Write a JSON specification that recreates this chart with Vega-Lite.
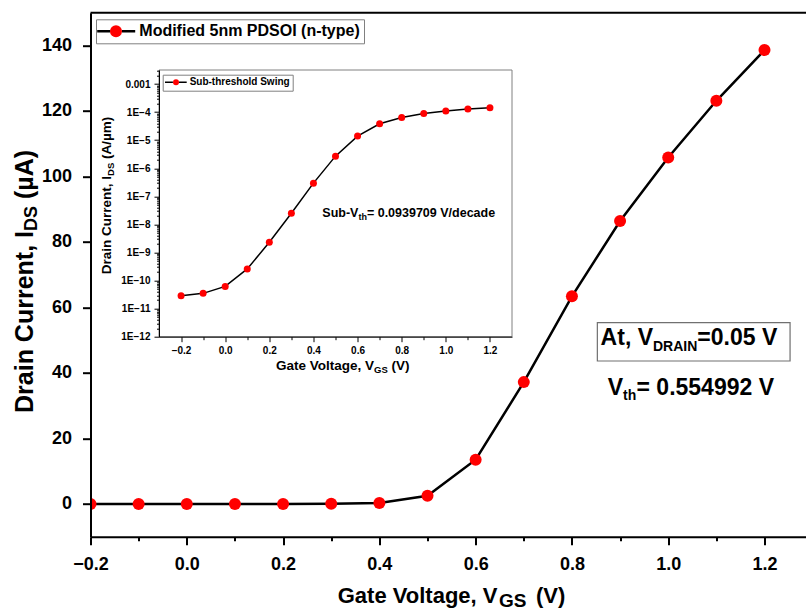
{
  "$schema": "https://vega.github.io/schema/vega-lite/v6.json",
  "width": 715.5,
  "height": 524,
  "autosize": {"type": "none"},
  "padding": {"left": 90.5, "top": 12.7, "right": 0, "bottom": 74.3},
  "background": "white",
  "config": {"view": {"stroke": null}, "font": "Liberation Sans"},
  "datasets": {
    "main": [
      {"vgs": -0.2, "ids": 0.0, "series": "Modified 5nm PDSOI (n-type)"},
      {"vgs": -0.1, "ids": 0.0, "series": "Modified 5nm PDSOI (n-type)"},
      {"vgs": 0.0, "ids": 0.0, "series": "Modified 5nm PDSOI (n-type)"},
      {"vgs": 0.1, "ids": 0.0, "series": "Modified 5nm PDSOI (n-type)"},
      {"vgs": 0.2, "ids": 0.0, "series": "Modified 5nm PDSOI (n-type)"},
      {"vgs": 0.3, "ids": 0.03, "series": "Modified 5nm PDSOI (n-type)"},
      {"vgs": 0.4, "ids": 0.3, "series": "Modified 5nm PDSOI (n-type)"},
      {"vgs": 0.5, "ids": 2.5, "series": "Modified 5nm PDSOI (n-type)"},
      {"vgs": 0.6, "ids": 13.5, "series": "Modified 5nm PDSOI (n-type)"},
      {"vgs": 0.7, "ids": 37.2, "series": "Modified 5nm PDSOI (n-type)"},
      {"vgs": 0.8, "ids": 63.4, "series": "Modified 5nm PDSOI (n-type)"},
      {"vgs": 0.9, "ids": 86.4, "series": "Modified 5nm PDSOI (n-type)"},
      {"vgs": 1.0, "ids": 105.8, "series": "Modified 5nm PDSOI (n-type)"},
      {"vgs": 1.1, "ids": 123.1, "series": "Modified 5nm PDSOI (n-type)"},
      {"vgs": 1.2, "ids": 138.6, "series": "Modified 5nm PDSOI (n-type)"}
    ],
    "inset": [
      {"vgs": -0.2, "ids": 2.9e-11, "series": "Sub-threshold Swing"},
      {"vgs": -0.1, "ids": 3.5e-11, "series": "Sub-threshold Swing"},
      {"vgs": 0.0, "ids": 6.2e-11, "series": "Sub-threshold Swing"},
      {"vgs": 0.1, "ids": 2.6e-10, "series": "Sub-threshold Swing"},
      {"vgs": 0.2, "ids": 2.3e-9, "series": "Sub-threshold Swing"},
      {"vgs": 0.3, "ids": 2.5e-8, "series": "Sub-threshold Swing"},
      {"vgs": 0.4, "ids": 2.95e-7, "series": "Sub-threshold Swing"},
      {"vgs": 0.5, "ids": 2.7e-6, "series": "Sub-threshold Swing"},
      {"vgs": 0.6, "ids": 1.4e-5, "series": "Sub-threshold Swing"},
      {"vgs": 0.7, "ids": 3.85e-5, "series": "Sub-threshold Swing"},
      {"vgs": 0.8, "ids": 6.4e-5, "series": "Sub-threshold Swing"},
      {"vgs": 0.9, "ids": 9.0e-5, "series": "Sub-threshold Swing"},
      {"vgs": 1.0, "ids": 1.1e-4, "series": "Sub-threshold Swing"},
      {"vgs": 1.1, "ids": 1.29e-4, "series": "Sub-threshold Swing"},
      {"vgs": 1.2, "ids": 1.43e-4, "series": "Sub-threshold Swing"}
    ]
  },
  "layer": [
    {
      "data": {"name": "main"},
      "layer": [
        {
          "data": {"values": [{}]},
          "mark": {"type": "rule", "color": "black", "strokeWidth": 2},
          "encoding": {"y": {"datum": 150, "type": "quantitative"}}
        },
        {
          "mark": {"type": "line", "strokeWidth": 2.5, "clip": true},
          "encoding": {
            "x": {"field": "vgs", "type": "quantitative",
              "scale": {"domain": [-0.2, 1.2862], "nice": false, "zero": false},
              "axis": {"orient": "bottom", "title": null, "grid": false, "zindex": 1,
                "values": [-0.2, -0.1, 0, 0.1, 0.2, 0.3, 0.4, 0.5, 0.6, 0.7, 0.8, 0.9, 1.0, 1.1, 1.2],
                "format": ".1f",
                "labelExpr": "abs(round(datum.value*10))%2==0 ? datum.label : ''",
                "labelFlush": false, "labelOverlap": false,
                "labelFont": "Liberation Sans", "labelFontSize": 18, "labelFontWeight": "bold", "labelColor": "black", "labelPadding": 11,
                "domainColor": "black", "domainWidth": 2, "tickColor": "black", "tickWidth": 2,
                "tickSize": {"condition": {"test": "abs(round(datum.value*10))%2==0", "value": 8}, "value": 4}}},
            "y": {"field": "ids", "type": "quantitative",
              "scale": {"domain": [-10, 150], "nice": false, "zero": false},
              "axis": {"orient": "left", "title": null, "grid": false, "zindex": 1,
                "values": [0, 10, 20, 30, 40, 50, 60, 70, 80, 90, 100, 110, 120, 130, 140],
                "labelExpr": "datum.value%20==0 ? datum.label : ''",
                "labelFlush": false, "labelOverlap": false,
                "labelFont": "Liberation Sans", "labelFontSize": 18, "labelFontWeight": "bold", "labelColor": "black", "labelPadding": 11,
                "domainColor": "black", "domainWidth": 2, "tickColor": "black", "tickWidth": 2,
                "tickSize": {"condition": {"test": "datum.value%20==0", "value": 8}, "value": 4}}},
            "stroke": {"field": "series", "type": "nominal", "scale": {"range": ["black"]},
              "legend": {"title": null, "orient": "none", "legendX": 5.2, "legendY": -1.9, "padding": 0,
                "symbolType": "M-1,0H-0.3M0.3,0H1", "symbolSize": 1444, "symbolStrokeWidth": 2.5,
                "labelExpr": "''", "labelFontSize": 16}}
          }
        },
        {
          "mark": {"type": "point", "filled": true, "size": 144, "opacity": 1, "shape": "circle", "clip": true},
          "encoding": {
            "x": {"field": "vgs", "type": "quantitative"},
            "y": {"field": "ids", "type": "quantitative"},
            "fill": {"field": "series", "type": "nominal", "scale": {"range": ["#ff0000"]},
              "legend": {"title": null, "orient": "none", "legendX": 5.5, "legendY": 6.6, "padding": 4,
                "strokeColor": "#808080", "symbolType": "circle", "symbolSize": 144, "symbolStrokeWidth": 0,
                "symbolOpacity": 1, "symbolOffset": 8, "labelOffset": 15.3,
                "labelFont": "Liberation Sans", "labelFontSize": 16, "labelFontWeight": "bold", "labelColor": "black", "labelLimit": 500}}
          }
        },
        {
          "data": {"values": [{}]},
          "mark": {"type": "rect", "fill": null, "stroke": "#707070", "strokeWidth": 1.2},
          "encoding": {"x": {"datum": 0.8528}, "x2": {"datum": 1.2531}, "y": {"datum": 55.34}, "y2": {"datum": 43.65}}
        },
        {
          "data": {"values": [{}]},
          "mark": {"type": "text", "text": "At, V", "font": "Liberation Sans", "fontWeight": "bold", "fontSize": 23, "align": "right", "baseline": "alphabetic", "color": "black"},
          "encoding": {"x": {"datum": 0.9684}, "y": {"datum": 48.53}}
        },
        {
          "data": {"values": [{}]},
          "mark": {"type": "text", "text": "DRAIN", "font": "Liberation Sans", "fontWeight": "bold", "fontSize": 14, "align": "left", "baseline": "alphabetic", "dy": 6, "color": "black"},
          "encoding": {"x": {"datum": 0.9684}, "y": {"datum": 48.53}}
        },
        {
          "data": {"values": [{}]},
          "mark": {"type": "text", "text": "=0.05 V", "font": "Liberation Sans", "fontWeight": "bold", "fontSize": 23, "align": "left", "baseline": "alphabetic", "color": "black"},
          "encoding": {"x": {"datum": 1.0605}, "y": {"datum": 48.53}}
        },
        {
          "data": {"values": [{}]},
          "mark": {"type": "text", "text": "V", "font": "Liberation Sans", "fontWeight": "bold", "fontSize": 23, "align": "right", "baseline": "alphabetic", "color": "black"},
          "encoding": {"x": {"datum": 0.9062}, "y": {"datum": 33.27}}
        },
        {
          "data": {"values": [{}]},
          "mark": {"type": "text", "text": "th", "font": "Liberation Sans", "fontWeight": "bold", "fontSize": 14, "align": "left", "baseline": "alphabetic", "dy": 5, "color": "black"},
          "encoding": {"x": {"datum": 0.9062}, "y": {"datum": 33.27}}
        },
        {
          "data": {"values": [{}]},
          "mark": {"type": "text", "text": "= 0.554992 V", "font": "Liberation Sans", "fontWeight": "bold", "fontSize": 23, "align": "left", "baseline": "alphabetic", "color": "black"},
          "encoding": {"x": {"datum": 0.9342}, "y": {"datum": 33.27}}
        },
        {
          "data": {"values": [{}]},
          "mark": {"type": "text", "text": "Gate Voltage, V", "font": "Liberation Sans", "fontWeight": "bold", "fontSize": 22, "align": "right", "baseline": "alphabetic", "color": "black"},
          "encoding": {"x": {"datum": 0.6454}, "y": {"datum": -30.3}}
        },
        {
          "data": {"values": [{}]},
          "mark": {"type": "text", "text": "GS", "font": "Liberation Sans", "fontWeight": "bold", "fontSize": 19, "align": "left", "baseline": "alphabetic", "dy": 4, "color": "black"},
          "encoding": {"x": {"datum": 0.6486}, "y": {"datum": -30.3}}
        },
        {
          "data": {"values": [{}]},
          "mark": {"type": "text", "text": "(V)", "font": "Liberation Sans", "fontWeight": "bold", "fontSize": 22, "align": "left", "baseline": "alphabetic", "color": "black"},
          "encoding": {"x": {"datum": 0.7254}, "y": {"datum": -30.3}}
        },
        {
          "data": {"values": [{}]},
          "mark": {"type": "text", "text": "Drain Current, I", "font": "Liberation Sans", "fontWeight": "bold", "fontSize": 25, "angle": 270, "align": "right", "baseline": "alphabetic", "color": "black"},
          "encoding": {"x": {"datum": -0.3188}, "y": {"datum": 83.34}}
        },
        {
          "data": {"values": [{}]},
          "mark": {"type": "text", "text": "DS", "font": "Liberation Sans", "fontWeight": "bold", "fontSize": 18, "angle": 270, "align": "left", "baseline": "alphabetic", "dy": 4, "color": "black"},
          "encoding": {"x": {"datum": -0.3188}, "y": {"datum": 83.34}}
        },
        {
          "data": {"values": [{}]},
          "mark": {"type": "text", "text": "(µA)", "font": "Liberation Sans", "fontWeight": "bold", "fontSize": 25, "angle": 270, "align": "left", "baseline": "alphabetic", "color": "black"},
          "encoding": {"x": {"datum": -0.3188}, "y": {"datum": 93.1}}
        }
      ]
    },
    {
      "data": {"name": "inset"},
      "layer": [
        {
          "data": {"values": [{}]},
          "mark": {"type": "rect", "fill": "white", "stroke": "#808080", "strokeWidth": 1},
          "encoding": {"x": {"datum": -0.3}, "x2": {"datum": 1.3}, "y": {"datum": 1e-12}, "y2": {"datum": 0.0031623}}
        },
        {
          "mark": {"type": "line", "strokeWidth": 1.5},
          "encoding": {
            "x": {"field": "vgs", "type": "quantitative",
              "scale": {"domain": [-0.3, 1.3], "range": [68.5, 421.5], "nice": false, "zero": false},
              "axis": {"orient": "bottom", "offset": -200, "title": null, "grid": false, "zindex": 1,
                "values": [-0.2, -0.1, 0, 0.1, 0.2, 0.3, 0.4, 0.5, 0.6, 0.7, 0.8, 0.9, 1.0, 1.1, 1.2],
                "format": ".1f",
                "labelExpr": "abs(round(datum.value*10))%2==0 ? datum.label : ''",
                "labelFlush": false, "labelOverlap": false,
                "labelFont": "Liberation Sans", "labelFontSize": 10, "labelFontWeight": "bold", "labelColor": "black", "labelPadding": 4,
                "domainColor": "black", "domainWidth": 1, "tickColor": "black", "tickWidth": 1,
                "tickSize": {"condition": {"test": "abs(round(datum.value*10))%2==0", "value": 5}, "value": 3}}},
            "y": {"field": "ids", "type": "quantitative",
              "scale": {"type": "log", "domain": [1e-12, 0.0031623], "range": [324, 57.3], "nice": false, "zero": false},
              "axis": {"orient": "left", "offset": -68.5, "title": null, "grid": false, "zindex": 1,
                "values": [1e-12, 2e-12, 3e-12, 4e-12, 5e-12, 6e-12, 7e-12, 8e-12, 9e-12,
                  1e-11, 2e-11, 3e-11, 4e-11, 5e-11, 6e-11, 7e-11, 8e-11, 9e-11,
                  1e-10, 2e-10, 3e-10, 4e-10, 5e-10, 6e-10, 7e-10, 8e-10, 9e-10,
                  1e-9, 2e-9, 3e-9, 4e-9, 5e-9, 6e-9, 7e-9, 8e-9, 9e-9,
                  1e-8, 2e-8, 3e-8, 4e-8, 5e-8, 6e-8, 7e-8, 8e-8, 9e-8,
                  1e-7, 2e-7, 3e-7, 4e-7, 5e-7, 6e-7, 7e-7, 8e-7, 9e-7,
                  1e-6, 2e-6, 3e-6, 4e-6, 5e-6, 6e-6, 7e-6, 8e-6, 9e-6,
                  1e-5, 2e-5, 3e-5, 4e-5, 5e-5, 6e-5, 7e-5, 8e-5, 9e-5,
                  1e-4, 2e-4, 3e-4, 4e-4, 5e-4, 6e-4, 7e-4, 8e-4, 9e-4,
                  1e-3, 2e-3, 3e-3],
                "labelExpr": "abs(log(datum.value)/LN10 - round(log(datum.value)/LN10)) < 0.001 ? (datum.value > 0.0009 ? '0.001' : '1E−' + (-round(log(datum.value)/LN10))) : ''",
                "labelFlush": false, "labelOverlap": false,
                "labelFont": "Liberation Sans", "labelFontSize": 10, "labelFontWeight": "bold", "labelColor": "black", "labelPadding": 4,
                "domainColor": "black", "domainWidth": 1, "tickColor": "black", "tickWidth": 1,
                "tickSize": {"condition": {"test": "abs(log(datum.value)/LN10 - round(log(datum.value)/LN10)) < 0.001", "value": 5}, "value": 2.5}}},
            "stroke": {"field": "series", "type": "nominal", "scale": {"range": ["black"]},
              "legend": {"title": null, "orient": "none", "legendX": 73.35, "legendY": 57.65, "padding": 0,
                "symbolType": "M-1,0H-0.27M0.27,0H1", "symbolSize": 471, "symbolStrokeWidth": 1.5,
                "labelExpr": "''", "labelFontSize": 10}}
          }
        },
        {
          "mark": {"type": "point", "filled": true, "size": 49, "opacity": 1, "shape": "circle"},
          "encoding": {
            "x": {"field": "vgs", "type": "quantitative"},
            "y": {"field": "ids", "type": "quantitative"},
            "fill": {"field": "series", "type": "nominal", "scale": {"range": ["#ff0000"]},
              "legend": {"title": null, "orient": "none", "legendX": 72.2, "legendY": 62, "padding": 2.65,
                "strokeColor": "#808080", "symbolType": "circle", "symbolSize": 36, "symbolStrokeWidth": 0,
                "symbolOpacity": 1, "symbolOffset": 5.65, "labelOffset": 8.65,
                "labelFont": "Liberation Sans", "labelFontSize": 10, "labelFontWeight": "bold", "labelColor": "black", "labelLimit": 500}}
          }
        },
        {
          "data": {"values": [{}]},
          "mark": {"type": "text", "text": "Sub-V", "font": "Liberation Sans", "fontWeight": "bold", "fontSize": 12.5, "align": "right", "baseline": "alphabetic", "color": "black"},
          "encoding": {"x": {"datum": 0.6039}, "y": {"datum": 1.884e-8}}
        },
        {
          "data": {"values": [{}]},
          "mark": {"type": "text", "text": "th", "font": "Liberation Sans", "fontWeight": "bold", "fontSize": 9, "align": "left", "baseline": "alphabetic", "dy": 3, "color": "black"},
          "encoding": {"x": {"datum": 0.6039}, "y": {"datum": 1.884e-8}}
        },
        {
          "data": {"values": [{}]},
          "mark": {"type": "text", "text": "= 0.0939709 V/decade", "font": "Liberation Sans", "fontWeight": "bold", "fontSize": 12.5, "align": "left", "baseline": "alphabetic", "color": "black"},
          "encoding": {"x": {"datum": 0.6424}, "y": {"datum": 1.884e-8}}
        },
        {
          "data": {"values": [{}]},
          "mark": {"type": "text", "text": "Gate Voltage, V", "font": "Liberation Sans", "fontWeight": "bold", "fontSize": 13.5, "align": "right", "baseline": "alphabetic", "color": "black"},
          "encoding": {"x": {"datum": 0.6746}, "y": {"datum": 6.51e-14}}
        },
        {
          "data": {"values": [{}]},
          "mark": {"type": "text", "text": "GS", "font": "Liberation Sans", "fontWeight": "bold", "fontSize": 9.5, "align": "left", "baseline": "alphabetic", "dy": 3, "color": "black"},
          "encoding": {"x": {"datum": 0.6746}, "y": {"datum": 6.51e-14}}
        },
        {
          "data": {"values": [{}]},
          "mark": {"type": "text", "text": "(V)", "font": "Liberation Sans", "fontWeight": "bold", "fontSize": 13.5, "align": "left", "baseline": "alphabetic", "color": "black"},
          "encoding": {"x": {"datum": 0.754}, "y": {"datum": 6.51e-14}}
        },
        {
          "data": {"values": [{}]},
          "mark": {"type": "text", "text": "Drain Current, I", "font": "Liberation Sans", "fontWeight": "bold", "fontSize": 13.5, "angle": 270, "align": "right", "baseline": "alphabetic", "color": "black"},
          "encoding": {"x": {"datum": -0.519}, "y": {"datum": 5.31e-7}}
        },
        {
          "data": {"values": [{}]},
          "mark": {"type": "text", "text": "DS", "font": "Liberation Sans", "fontWeight": "bold", "fontSize": 9.5, "angle": 270, "align": "left", "baseline": "alphabetic", "dy": 3, "color": "black"},
          "encoding": {"x": {"datum": -0.519}, "y": {"datum": 5.31e-7}}
        },
        {
          "data": {"values": [{}]},
          "mark": {"type": "text", "text": "(A/µm)", "font": "Liberation Sans", "fontWeight": "bold", "fontSize": 13.5, "angle": 270, "align": "left", "baseline": "alphabetic", "color": "black"},
          "encoding": {"x": {"datum": -0.519}, "y": {"datum": 2.14e-6}}
        }
      ]
    }
  ],
  "resolve": {
    "scale": {"x": "independent", "y": "independent", "stroke": "independent", "fill": "independent"},
    "axis": {"x": "independent", "y": "independent"},
    "legend": {"stroke": "independent", "fill": "independent"}
  }
}
